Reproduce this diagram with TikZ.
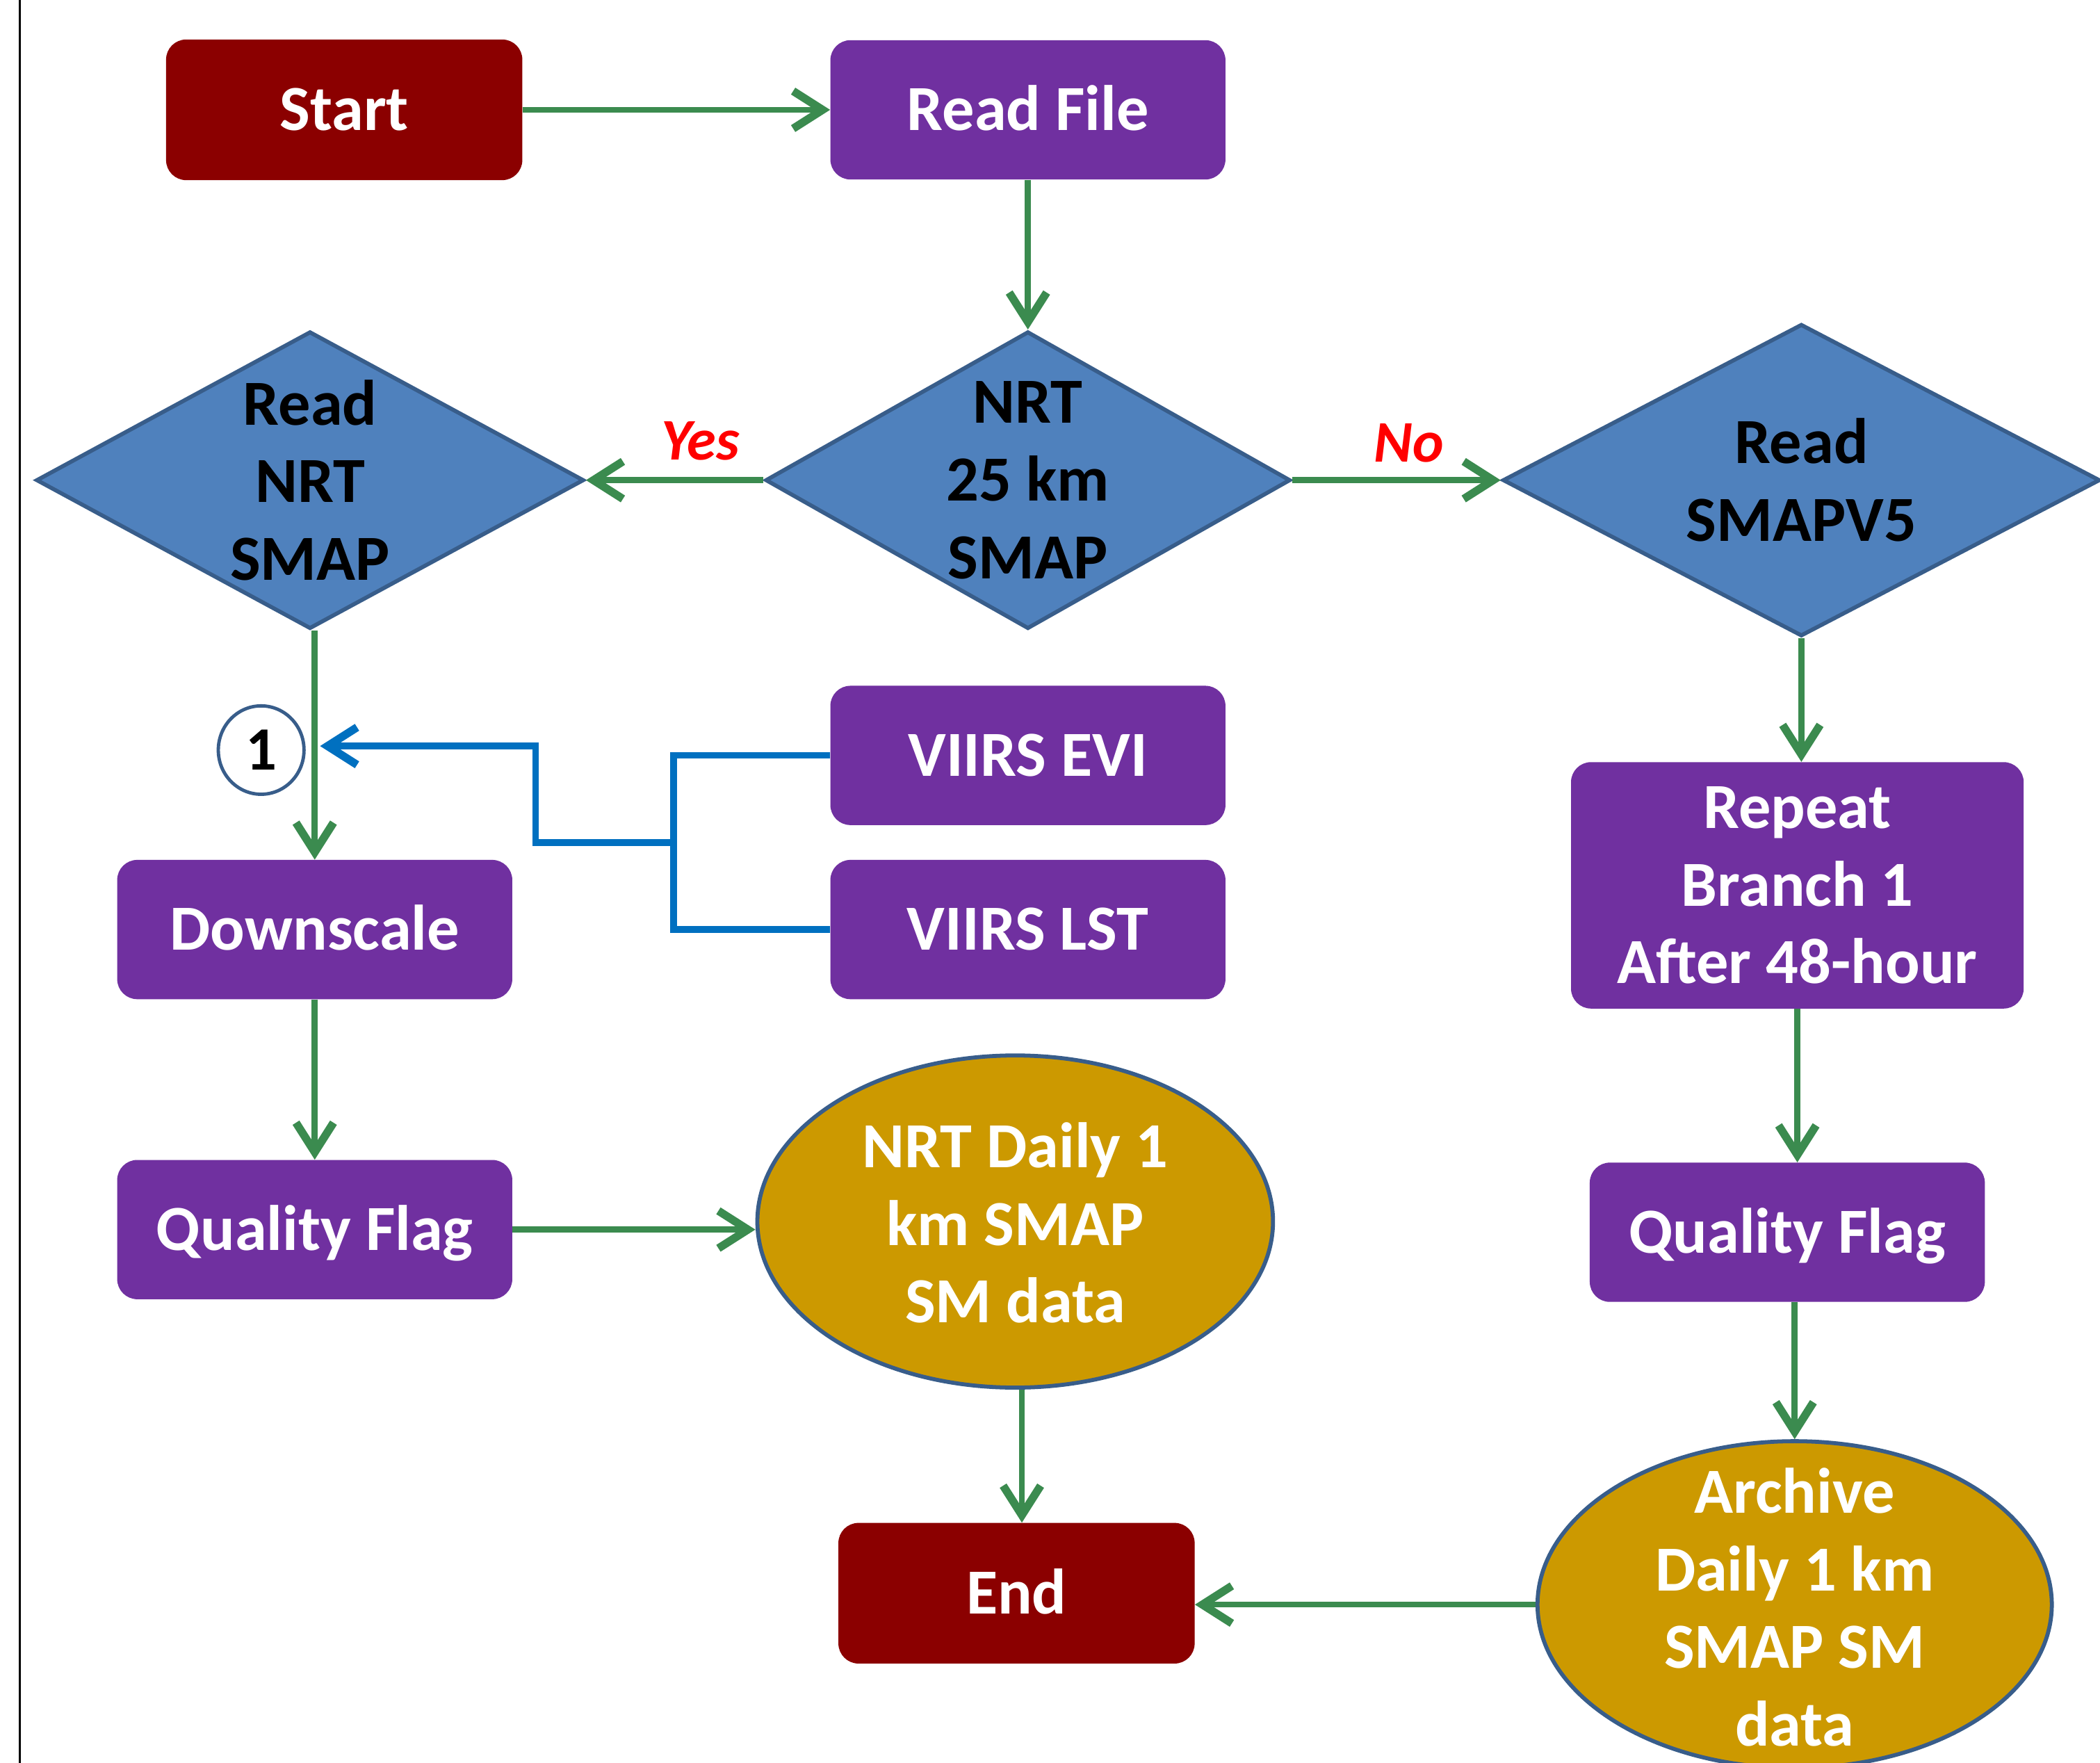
\documentclass[tikz,border=0pt]{standalone}
\usepackage{fontspec}
\setmainfont{Carlito}
\usetikzlibrary{shapes.geometric,arrows.meta}
\definecolor{dred}{RGB}{139,0,0}
\definecolor{purp}{RGB}{112,48,160}
\definecolor{dfill}{RGB}{79,129,189}
\definecolor{dborder}{RGB}{56,93,138}
\definecolor{gold}{RGB}{204,153,0}
\definecolor{grn}{RGB}{59,139,79}
\definecolor{blu}{RGB}{0,112,192}
\begin{document}
\begin{tikzpicture}[x=1pt,y=-1pt,
  txt/.style={font=\bfseries\fontsize{48}{58}\selectfont, align=center, inner sep=0pt},
  box/.style={rectangle, rounded corners=15pt, inner sep=0pt, txt, text=white},
  single/.style={text height=31pt, text depth=0pt},
  termbox/.style={box, single, fill=dred, minimum width=266, minimum height=105},
  procbox/.style={box, fill=purp, minimum width=295, minimum height=104},
  decis/.style={diamond, fill=dfill, draw=dborder, line width=3pt, inner sep=0pt},
  outell/.style={ellipse, fill=gold, draw=dborder, line width=3pt, inner sep=0pt},
  garrow/.style={draw=grn, line width=4.5pt, -{Straight Barb[length=22pt,width=28pt,line width=6pt]}},
  bline/.style={draw=blu, line width=5pt},
  barrow/.style={bline, -{Straight Barb[length=22pt,width=28pt,line width=6pt]}},
  lbl/.style={font=\bfseries\itshape\fontsize{44}{50}\selectfont, text=red, inner sep=0pt}
]
\useasboundingbox (0,0) rectangle (1568,1316);
\fill[white] (0,0) rectangle (1568,1316);
\draw[line width=1.5pt] (15,-5) -- (15,1321);

% nodes
\node[termbox] (start) at (257,82) {Start};
\node[procbox, single] (readfile) at (767.5,82) {Read File};

\node[decis, minimum width=392, minimum height=222] (nrt) at (767.5,358.5) {};
\node[txt] (nrtT) at (nrt) {NRT\\25 km\\SMAP};
\node[decis, minimum width=409, minimum height=222] (rnrt) at (231.5,358.5) {};
\node[txt] (rnrtT) at (rnrt) {Read\\NRT\\SMAP};
\node[decis, minimum width=446, minimum height=233] (rsmap) at (1345,358.5) {};
\node[txt] (rsmapT) at (rsmap) {Read\\SMAPV5};

\node[lbl] (yes) at (523,329) {Yes};
\node[lbl] (no) at (1052,331) {No};

\node[ellipse, draw=dborder, line width=2.5pt, fill=white, minimum width=64, minimum height=66,
      inner sep=0pt, font=\bfseries\fontsize{46}{50}\selectfont] (one) at (195,560) {1};

\node[procbox, single] (evi) at (767.5,564) {VIIRS EVI};
\node[procbox, single] (lst) at (767.5,694) {VIIRS LST};
\node[procbox, single] (down) at (235,694) {Downscale};
\node[procbox, single] (qfl) at (235,918) {Quality Flag};

\node[outell, minimum width=385, minimum height=248] (nrtd) at (758,912) {};
\node[txt, text=white] (nrtdT) at (758,913) {NRT Daily 1\\km SMAP\\SM data};

\node[termbox] (end) at (759,1189.5) {End};

\node[procbox, minimum width=338, minimum height=184] (rep) at (1342,661) {Repeat\\Branch 1\\After 48-hour};
\node[procbox, single] (qfr) at (1334.5,920) {Quality Flag};

\node[outell, minimum width=384, minimum height=244] (arch) at (1340,1198) {};
\node[txt, text=white] (archT) at (1340,1200) {Archive\\Daily 1 km\\SMAP SM\\data};

% green connectors
\draw[garrow] (start) -- (readfile);
\draw[garrow] (readfile) -- (nrt);
\draw[garrow] (nrt) -- (rnrt);
\draw[garrow] (nrt) -- (rsmap);
\draw[garrow] (down.north |- rnrt.south) -- (down.north);
\draw[garrow] (down) -- (qfl);
\draw[garrow] (qfl.east) -- (qfl.east -| nrtd.west);
\draw[garrow] ([xshift=5pt]nrtd.south) -- ([xshift=5pt]nrtd.south |- end.north);
\draw[garrow] (arch.west) -- (arch.west -| end.east);
\draw[garrow] (rsmap.south) -- (rsmap.south |- rep.north);
\draw[garrow] (rep.south) -- (rep.south |- qfr.north);
\draw[garrow] (qfr.south -| arch.north) -- (arch.north);

% blue connectors
\coordinate (jx) at (503,629);
\coordinate (bend) at (400,629);
\coordinate (tip) at (239,557);
\draw[bline] (evi.west) -| (jx);
\draw[bline] (lst.west) -| (jx);
\draw[barrow] (jx) -- (bend) |- (tip);
\end{tikzpicture}
\end{document}
